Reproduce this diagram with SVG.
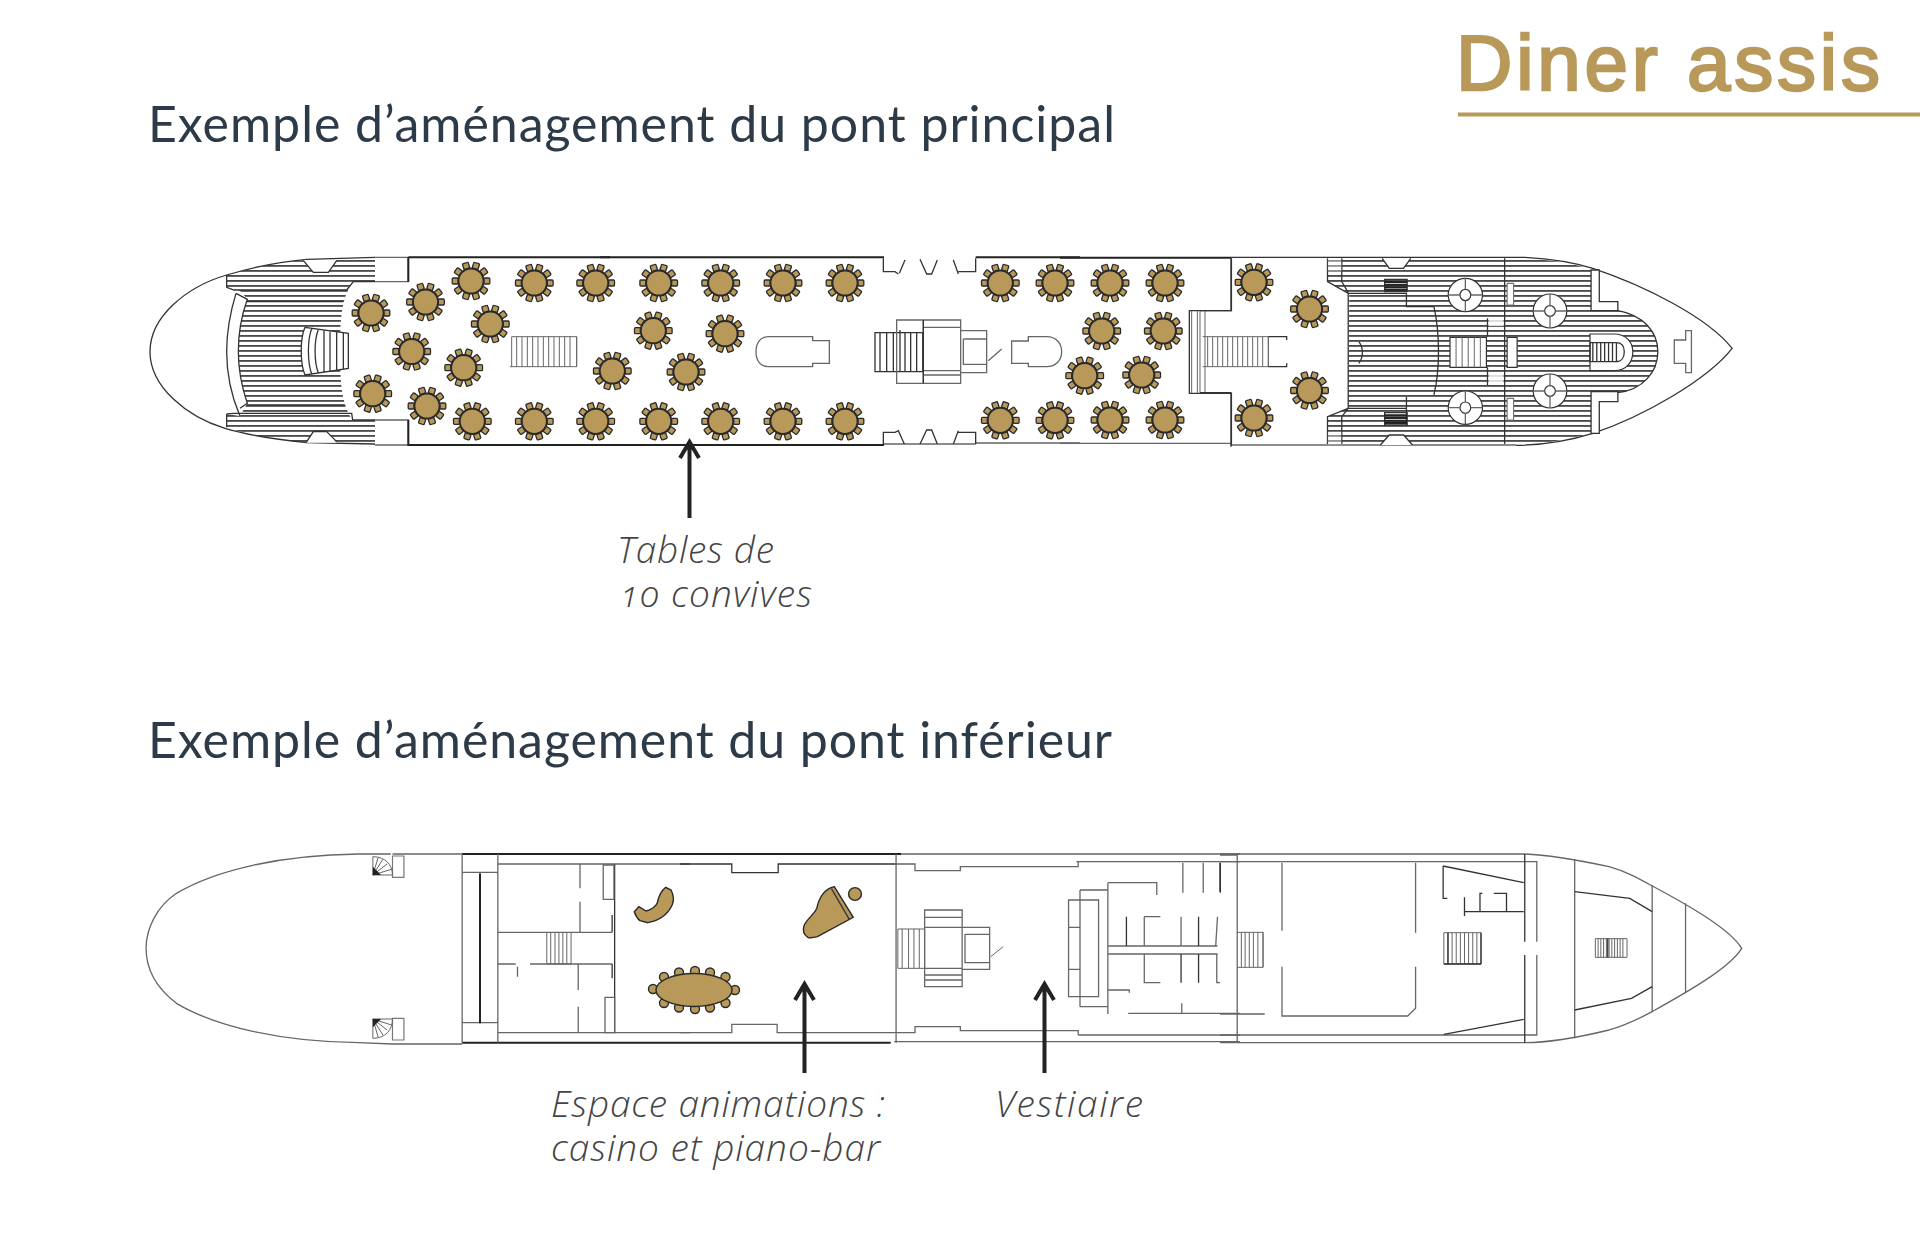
<svg xmlns="http://www.w3.org/2000/svg" width="1920" height="1259" viewBox="0 0 1920 1259">
<style>
.z path,.z rect,.z ellipse,.z circle{vector-effect:non-scaling-stroke}
.d{fill:none;stroke:#333;stroke-width:1.3}
.k{fill:none;stroke:#222;stroke-width:2}
.m{fill:none;stroke:#666;stroke-width:1.3}
.s{fill:none;stroke:#666;stroke-width:1}
.w{fill:#fff;stroke:#333;stroke-width:1.2}
.wg{fill:#fff;stroke:#777;stroke-width:1.2}
.wn{fill:#fff;stroke:none}
.h{fill:url(#hatch);stroke:none}
.gold{fill:#b8995a;stroke:#2a2a2a;stroke-width:1.4}
.head{font-family:Lato,"Noto Sans",sans-serif;font-size:50px;fill:#2d3b48}
.note{font-family:"Open Sans",Lato,sans-serif;font-size:37px;font-style:italic;font-weight:300;fill:#444;font-variant-numeric:oldstyle-nums}
.title{font-family:"Liberation Sans",Arial,sans-serif;font-size:78px;fill:#b8995a;stroke:#b8995a;stroke-width:2.4}
.arrow{fill:none;stroke:#222;stroke-width:4}
</style>
<defs>
<pattern id="hatch" patternUnits="userSpaceOnUse" width="30" height="15">
<rect width="30" height="15" fill="#fff"/>
<rect width="30" height="5.500" fill="#4a4a4a"/>
</pattern>
<g id="chair"><rect x="-3" y="-18.800" width="6" height="6" rx="1" fill="#b8995a" stroke="#2a2a2a" stroke-width="1.300"/></g>
<g id="table">
<use href="#chair" transform="rotate(18)"/><use href="#chair" transform="rotate(54)"/><use href="#chair" transform="rotate(90)"/><use href="#chair" transform="rotate(126)"/><use href="#chair" transform="rotate(162)"/><use href="#chair" transform="rotate(198)"/><use href="#chair" transform="rotate(234)"/><use href="#chair" transform="rotate(270)"/><use href="#chair" transform="rotate(306)"/><use href="#chair" transform="rotate(342)"/>
<circle r="12.600" fill="#b8995a" stroke="#2a2a2a" stroke-width="2"/>
</g>
</defs>
<rect width="1920" height="1259" fill="#fff"/>

<g id="title"><text class="title" x="1456" y="90" textLength="424" lengthAdjust="spacing">Diner assis</text><rect x="1458" y="112.500" width="462" height="4" fill="#b8995a"/></g>
<text id="heading-main" class="head" x="148" y="142" textLength="967" lengthAdjust="spacing">Exemple d’aménagement du pont principal</text>
<text id="heading-lower" class="head" x="148" y="758" textLength="964" lengthAdjust="spacing">Exemple d’aménagement du pont inférieur</text>

<g id="main-deck-stern" class="z" transform="translate(130 240) scale(.33333)">
<path class="h" d="M290,105C380,80 450,65 530,60L735,55V125H670C640,165 630,210 630,335C630,450 640,500 668,540H735V610L530,608C450,600 370,590 290,562V522L330,528L352,490C335,440 325,390 325,335C325,280 335,225 352,178L330,152L290,142Z"/>
<path class="d" d="M735,52L530,58C450,65 380,78 290,105C170,140 60,230 60,335C60,440 170,530 285,565C370,590 450,600 530,608L735,612"/>
<path class="d" d="M290,105V142L312,150H650L670,125H735M350,185H640M350,495H645M290,522V562M290,522L312,520H665L668,540H735M318,160C298,225 290,280 290,335C290,400 305,470 330,528M318,160L352,178C335,225 325,280 325,335C325,390 335,440 352,490L330,505"/>
<path class="wn" d="M520,60H620L595,97H550Z"/>
<path class="d" d="M520,62L550,97H595L620,62"/>
<path class="wn" d="M530,608H620L590,575H550Z"/>
<path class="d" d="M530,605L550,575H590L620,605"/>
<rect class="wn" x="735" y="52" width="100" height="73"/><rect class="wn" x="735" y="540" width="100" height="75"/>
<path class="m" d="M735,125H835V52M735,540H835V615M735,615H835M735,52H835"/>
<path class="wn" d="M525,262L655,280V385L525,405C510,370 510,295 525,262Z"/>
<path class="d" d="M525,262L655,280V385L525,405C510,370 510,295 525,262ZM545,266C532,300 532,365 545,402M565,269C552,300 552,365 565,399M582,272V395M600,275V392M620,277V390M640,279V388"/>
<path class="s" d="M1145,290H1340V380H1140M1145,290V380M1160,290V380M1176,290V380M1192,290V380M1208,290V380M1224,290V380M1240,290V380M1256,290V380M1272,290V380M1288,290V380M1304,290V380M1320,290V380M1340,290V380"/>
<path class="k" d="M835,52H1440M835,125V52M835,540V615H1440"/>
</g>

<g id="main-deck-centre" class="z" transform="translate(600 240) scale(.33333)">
<path class="k" d="M0,52H852M0,615H852"/>
<path class="m" d="M852,612H1127M1127,609H1440"/>
<path class="k" d="M1127,52H1440"/>
<path class="d" d="M850,55V95H885L895,102M915,60L898,100M960,58L980,102H995L1012,60M1060,60L1075,102M1075,95H1127V55"/>
<path class="d" d="M850,612V577H885L895,572L913,612M960,612L980,570H995L1012,612M1060,612L1075,572M1075,577H1127V612"/>
<path class="m" d="M468,335C468,310 480,290 505,290H638V302H688V370H638V380H505C480,380 468,360 468,335Z"/>
<path class="m" d="M1235,303H1285V290H1340C1368,290 1385,310 1385,335C1385,360 1368,380 1340,380H1285V370H1235Z"/>
<path class="d" d="M825,278H968V395H825ZM840,278V395M860,278V395M880,278V395M900,270V395M915,278V395M932,278V395M950,278V395"/>
<path class="m" d="M890,240H1082V430H890ZM890,395V430M970,240V430M970,262H1082M970,405H1082M1082,272H1160V398H1082M1090,297H1160M1090,297V373H1160M970,392H1082"/>
<path class="d" d="M970,240V430"/>
<path class="m" d="M1165,362L1205,327"/>
</g>

<g id="main-deck-mid" class="z" transform="translate(1060 250) scale(.33333)">
<path class="k" d="M0,23H515"/>
<path class="m" d="M0,580H515"/>
<path class="d" d="M513,25V182H388V430H513V590"/>
<path class="s" d="M395,182V430M412,182V430M420,182V430M435,182V430"/>
<path class="s" d="M428,260H625V350H428M443,260V350M458,260V350M473,260V350M488,260V350M503,260V350M518,260V350M533,260V350M548,260V350M563,260V350M578,260V350M593,260V350M608,260V350M625,260V350"/>
<path class="d" d="M625,260H680V270M625,350H680V340"/>
</g>

<g id="main-deck-bow" class="z" transform="translate(1200 240) scale(.35714 .33333)">
<path class="h" d="M357,55H910C960,58 1040,68 1095,88V212H1170C1240,225 1282,275 1282,335C1282,395 1240,450 1170,458H1095V580C1040,598 960,612 885,615H357V530L415,505L418,160L357,125Z"/>
<path class="d" d="M88,52H910C960,55 1040,65 1100,85C1240,135 1420,230 1490,325C1420,420 1240,530 1100,580C1040,600 960,615 885,616"/>
<path class="m" d="M88,615H885"/>
<path class="d" d="M1170,212C1240,225 1282,275 1282,335C1282,395 1240,450 1170,458"/>
<path class="d" d="M88,55V212H0M88,458H0M88,458V618M357,55V125L415,160H578V200H655C672,280 672,390 655,465M578,470V555M415,505L357,530V612M397,55V125L415,158M397,612V530L415,505M415,505H578M415,160V505M853,55V612M805,235V290M805,382V435"/>
<path class="wn" d="M510,55H590L570,85H530Z"/><path class="d" d="M510,55L530,85H570L590,55"/>
<path class="wn" d="M505,615H595L570,585H530Z"/><path class="d" d="M505,615L530,585H570L595,615"/>
<path class="d" d="M445,305C458,325 458,350 445,370"/>
<rect class="wn" x="808" y="232" width="42" height="26" opacity=".8"/><rect class="wn" x="808" y="405" width="42" height="25" opacity=".8"/>
<rect class="wn" x="358" y="55" width="38" height="40" opacity=".4"/><rect class="wn" x="358" y="575" width="38" height="38" opacity=".4"/>
<g id="hatch-cover-1"><ellipse class="w" cx="743" cy="165" rx="48" ry="50"/><ellipse class="w" cx="743" cy="165" rx="15" ry="17"/><path class="m" d="M743,115V148M743,182V215M695,165H728M758,165H791"/></g>
<g id="hatch-cover-2"><ellipse class="w" cx="743" cy="503" rx="48" ry="50"/><ellipse class="w" cx="743" cy="503" rx="15" ry="17"/><path class="m" d="M743,453V486M743,520V553M695,503H728M758,503H791"/></g>
<g id="hatch-cover-3"><ellipse class="w" cx="980" cy="213" rx="47" ry="51"/><ellipse class="w" cx="980" cy="213" rx="15" ry="16"/><path class="m" d="M980,162V197M980,229V264M933,213H965M995,213H1027"/></g>
<g id="hatch-cover-4"><ellipse class="w" cx="980" cy="453" rx="47" ry="51"/><ellipse class="w" cx="980" cy="453" rx="15" ry="16"/><path class="m" d="M980,402V437M980,469V504M933,453H965M995,453H1027"/></g>
<rect class="w" x="700" y="292" width="102" height="90"/>
<path class="s" d="M717,292V382M734,292V382M751,292V382M768,292V382M785,292V382"/>
<rect class="w" x="860" y="292" width="28" height="90"/>
<rect class="wg" x="860" y="130" width="18" height="65"/><rect class="wg" x="860" y="475" width="18" height="65"/>
<rect class="d" x="517" y="118" width="63" height="37"/><path class="k" d="M517,126H580M517,134H580M517,142H580M517,149H580"/>
<rect class="d" x="517" y="518" width="63" height="37"/><path class="k" d="M517,526H580M517,534H580M517,542H580M517,549H580"/>
<path class="wn" d="M1095,90H1118V185H1170V212H1095Z"/><path class="d" d="M1095,90H1118V185H1170V212H1095Z"/>
<path class="wn" d="M1095,455H1170V485H1118V580H1095Z"/><path class="d" d="M1095,455H1170V485H1118V580H1095Z"/>
<path class="w" d="M1092,282H1160C1195,282 1212,310 1212,335C1212,365 1195,392 1160,392H1092Z"/>
<path class="d" d="M1092,308H1165C1185,308 1188,325 1188,335C1188,352 1180,365 1165,365H1092ZM1100,308V365M1111,308V365M1122,308V365M1133,308V365M1144,308V365M1155,308V365M1166,308V365"/>
<path class="m" d="M1328,300H1360V272H1376V398H1360V370H1328Z"/>
</g>

<g id="tables">
<use id="t1" href="#table" x="371" y="313"/><use id="t2" href="#table" x="425.500" y="302"/><use id="t3" href="#table" x="471" y="281"/><use id="t4" href="#table" x="534.300" y="283"/><use id="t5" href="#table" x="595.700" y="283"/><use id="t6" href="#table" x="490.300" y="324"/><use id="t7" href="#table" x="411.700" y="351.500"/><use id="t8" href="#table" x="463.700" y="367.700"/><use id="t9" href="#table" x="372.700" y="393.700"/><use id="t10" href="#table" x="427" y="406"/><use id="t11" href="#table" x="472.300" y="421.300"/><use id="t12" href="#table" x="534.300" y="421.300"/><use id="t13" href="#table" x="595.700" y="421.300"/><use id="t14" href="#table" x="612.300" y="371"/>
<use id="t15" href="#table" x="658.700" y="283"/><use id="t16" href="#table" x="720.700" y="283"/><use id="t17" href="#table" x="783" y="283"/><use id="t18" href="#table" x="845" y="283"/><use id="t19" href="#table" x="658.700" y="421.300"/><use id="t20" href="#table" x="720.700" y="421.300"/><use id="t21" href="#table" x="783" y="421.300"/><use id="t22" href="#table" x="845" y="421.300"/><use id="t23" href="#table" x="653.300" y="330.700"/><use id="t24" href="#table" x="725" y="333.700"/><use id="t25" href="#table" x="686" y="372"/>
<use id="t26" href="#table" x="1000.300" y="283"/><use id="t27" href="#table" x="1055" y="283"/><use id="t28" href="#table" x="1110" y="283"/><use id="t29" href="#table" x="1165" y="283"/><use id="t30" href="#table" x="1000.300" y="420.300"/><use id="t31" href="#table" x="1055" y="420.300"/><use id="t32" href="#table" x="1110" y="420"/><use id="t33" href="#table" x="1165" y="420"/><use id="t34" href="#table" x="1101.700" y="331"/><use id="t35" href="#table" x="1163.300" y="331"/><use id="t36" href="#table" x="1084.700" y="375.700"/><use id="t37" href="#table" x="1141.700" y="375"/>
<use id="t38" href="#table" x="1254" y="282.300"/><use id="t39" href="#table" x="1309.500" y="309"/><use id="t40" href="#table" x="1309.500" y="390.500"/><use id="t41" href="#table" x="1254" y="418"/>
</g>

<g id="lower-deck-stern" class="z" transform="translate(130 840) scale(.35714 .33333)">
<path class="m" d="M730,42H640C420,45 240,90 130,160C75,200 45,265 45,325C45,390 75,445 130,490C240,560 420,605 640,608L735,612H930"/>
<path class="m" d="M735,42H930"/>
<path class="k" d="M930,42H2160"/>
<path class="k" d="M930,608H2130"/>
<path class="m" d="M930,42V608M1030,42V608M930,97H1030M930,548H1030M1030,72H1568M1030,578H1568"/>
<path class="k" d="M980,100V550"/>
<path class="m" d="M1260,72V145M1260,185V277M1030,277H1350M1030,372H1080M1120,372H1350M1085,380V410M1255,372V450M1255,500V578"/>
<path class="d" d="M1350,225V277M1350,372V415M1357,72V578"/>
<path class="s" d="M1167,277V372H1235V277M1178,277V372M1190,277V372M1201,277V372M1212,277V372M1223,277V372"/>
<path class="m" d="M1325,75H1355V178H1325ZM1330,472H1357V578H1330Z"/>
<g id="spiral-top"><rect class="wg" x="735" y="48" width="32" height="64"/><path class="s" d="M680,105V50C715,50 735,75 735,105ZM680,105L695,52M680,105L708,58M680,105L720,72M680,105L732,88"/><path d="M680,105H703L680,80Z" fill="#222"/></g>
<g id="spiral-bottom"><rect class="wg" x="735" y="535" width="32" height="65"/><path class="s" d="M680,537V595C715,595 735,570 735,537ZM680,537L695,592M680,537L708,585M680,537L720,570M680,537L732,555"/><path d="M680,537H703L680,562Z" fill="#222"/></g>
<g id="sofa"><path class="gold" d="M1412,215L1425,200L1445,213C1458,210 1472,200 1476,190C1480,175 1480,160 1500,142L1515,150C1522,165 1524,180 1518,195C1505,225 1480,242 1450,248L1428,242C1420,235 1415,225 1412,215Z"/></g>
</g>

<g id="oval-table">
<circle class="gold" cx="664" cy="977" r="4.500"/><circle class="gold" cx="679" cy="972.500" r="4.500"/><circle class="gold" cx="695" cy="971" r="4.500"/><circle class="gold" cx="710" cy="972.500" r="4.500"/><circle class="gold" cx="725.500" cy="977" r="4.500"/>
<circle class="gold" cx="664" cy="1003" r="4.500"/><circle class="gold" cx="679" cy="1007.500" r="4.500"/><circle class="gold" cx="695" cy="1009" r="4.500"/><circle class="gold" cx="710" cy="1007.500" r="4.500"/><circle class="gold" cx="725.500" cy="1003" r="4.500"/>
<circle class="gold" cx="653" cy="989" r="4.500"/><circle class="gold" cx="735" cy="990" r="4.500"/>
<ellipse class="gold" cx="694" cy="990" rx="38" ry="16.500"/>
</g>

<g id="lower-deck-mid" class="z" transform="translate(680 840) scale(.35714 .33333)">
<path class="m" d="M620,42H1568M600,605H1568M1110,65H1568M1115,585H1568"/>
<path class="d" d="M0,72H145V98H275V72H605"/>
<path class="m" d="M0,578H145V553H272V578H605"/>
<path class="m" d="M605,72H658V92H785V80H1115V65M605,578H658V560H785V572H1115V585M605,42V608"/>
<g id="piano"><path class="gold" d="M432,140L485,232L385,290C375,293 365,295 358,292C348,285 343,272 347,258C352,240 375,225 383,205C388,180 400,148 432,140Z"/><path class="d" d="M424,146L474,238"/><ellipse class="gold" cx="490" cy="162" rx="18" ry="19"/></g>
<path class="s" d="M610,267H685V385H610ZM622,267V385M640,267V385M655,267V385M670,267V385"/>
<path class="m" d="M685,210H790V440H685ZM685,232H790M685,262H790M685,385H790M685,405H790M685,420H790M790,262H867V388H790M798,283H867M798,283V368H867M867,262V388"/>
<path class="s" d="M870,350L905,320"/>
<path class="m" d="M1088,180H1172V470H1088ZM1088,262H1120M1088,388H1120M1120,150V500M1120,150H1198M1120,500H1198M1198,128V522M1198,128H1335V165M1198,318H1505M1198,342H1505"/>
<path class="m" d="M1300,230V318M1300,230H1345M1403,230V318M1505,230L1500,318M1300,342V428H1345M1503,342V428H1512M1198,450H1258V458M1255,520H1568M1405,490V520M1408,68V158M1465,68V158"/>
<path class="d" d="M1250,230V318M1452,230V318M1403,342V428M1452,342V428M1513,68V158"/>
</g>

<g id="lower-deck-bow" class="z" transform="translate(1220 840) scale(.34435 .33333)">
<path class="m" d="M0,42H885C960,45 1030,58 1130,80C1180,95 1210,112 1250,135C1350,190 1480,265 1515,325C1480,385 1350,460 1255,515C1210,540 1180,555 1130,570C1030,595 960,608 885,608H0"/>
<path class="m" d="M0,65H920V305M920,345V585H0"/>
<path class="d" d="M885,42V305M885,345V608"/>
<path class="m" d="M50,42V605M0,605H50M0,45H50M1030,58V595M1255,135V515M1352,190V460M180,68V272M180,380V528H545L568,505V380M568,68V278M0,522H130"/>
<path class="d" d="M1030,155L1190,175L1255,215M1030,510L1195,475L1255,440M648,78L882,128M648,78V175H660M710,215H882M710,172V228M755,215V160H762M795,160H832V215M650,583L882,538M0,68V155"/>
<path class="s" d="M50,277H125V382H50M62,277V382M73,277V382M85,277V382M97,277V382M110,277V382M125,277V382"/>
<path class="s" d="M650,278H758V372H650ZM662,278V372M674,278V372M686,278V372M698,278V372M710,278V372M722,278V372M734,278V372M746,278V372"/><path class="d" d="M650,372H758M758,278V372M662,278V372"/>
<path class="s" d="M1090,296H1182V352H1090ZM1098,296V352M1106,296V352M1114,296V352M1122,296V352M1130,296V352M1138,296V352M1146,296V352M1154,296V352M1162,296V352M1170,296V352"/><path class="d" d="M1126,296V352"/>
</g>

<g id="connectors">
<path class="arrow" d="M689.500,518V444M680,458L689.500,442L699,458"/>
<path class="arrow" d="M804.500,1073V986M795,1000L804.500,984L814,1000"/>
<path class="arrow" d="M1044.500,1073V986M1035,1000L1044.500,984L1054,1000"/>
</g>

<text id="label-tables" class="note"><tspan x="617" y="563" textLength="157" lengthAdjust="spacing">Tables de</tspan><tspan x="620" y="607" textLength="192" lengthAdjust="spacing">10 convives</tspan></text>
<text id="label-espace" class="note"><tspan x="551" y="1117" textLength="334" lengthAdjust="spacing">Espace animations :</tspan><tspan x="551" y="1161" textLength="329" lengthAdjust="spacing">casino et piano-bar</tspan></text>
<text id="label-vestiaire" class="note" x="995" y="1117" textLength="148" lengthAdjust="spacing">Vestiaire</text>
</svg>
